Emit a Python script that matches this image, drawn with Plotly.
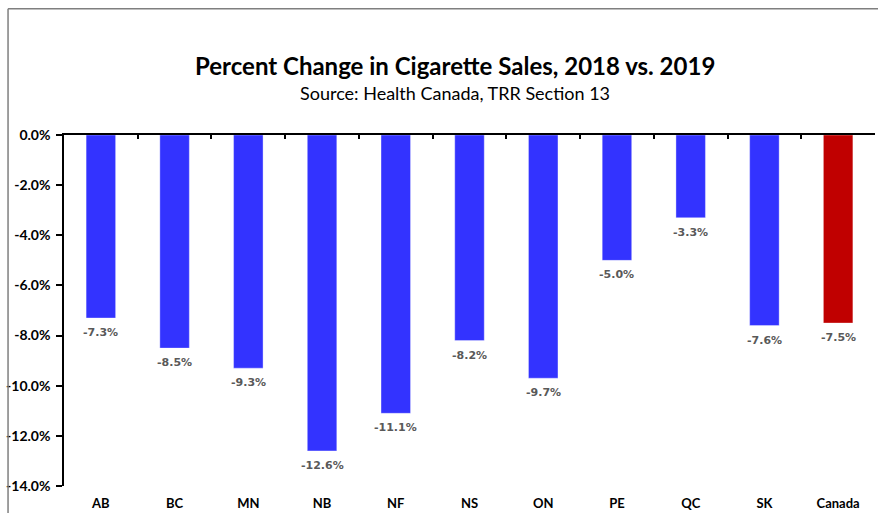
import plotly.graph_objects as go

# Provincial and national change in cigarette sales, 2018 vs. 2019 (%)
regions = ["AB", "BC", "MN", "NB", "NF", "NS", "ON", "PE", "QC", "SK", "Canada"]
pct_change = [-7.3, -8.5, -9.3, -12.6, -11.1, -8.2, -9.7, -5.0, -3.3, -7.6, -7.5]
bar_colors = ["#3333FF"] * 10 + ["#C00000"]
y_ticks = [0, -2, -4, -6, -8, -10, -12, -14]
y_tick_text = [f"{v:.1f}%" for v in y_ticks]

FONT = "Lato, 'Open Sans', sans-serif"
LABEL_FONT = "'DejaVu Sans', Verdana, sans-serif"
x_span = [-0.5, len(regions) - 0.5]

fig = go.Figure()
fig.add_trace(go.Bar(
    x=regions,
    y=pct_change,
    marker=dict(color=bar_colors, line=dict(color="rgba(255,255,255,0.35)", width=1)),
    width=0.4,
    hoverinfo="x+y",
))
# invisible companion trace that carries the bottom category labels
fig.add_trace(go.Scatter(x=regions, y=[0] * len(regions), xaxis="x2",
                         mode="markers", marker=dict(opacity=0),
                         hoverinfo="skip", showlegend=False))

# value labels just below each bar end
value_labels = [
    dict(x=r, y=v, xref="x", yref="y", text=f"{v:.1f}%", showarrow=False,
         xanchor="center", yanchor="top", yshift=-6,
         font=dict(family=LABEL_FONT, size=11, color="#595959", weight="bold"))
    for r, v in zip(regions, pct_change)
]

fig.update_layout(
    width=878, height=513,
    margin=dict(l=64, r=3, t=135, b=27),
    paper_bgcolor="white", plot_bgcolor="white",
    showlegend=False,
    font=dict(family=FONT, color="#000000"),
    xaxis=dict(
        type="category", categoryorder="array", categoryarray=regions,
        range=x_span, autorange=False,
        side="top", showline=True, linecolor="#000000", linewidth=1.5,
        ticks="inside", ticklen=4, tickcolor="#000000", tickwidth=1.5,
        tickson="boundaries", showticklabels=False, showgrid=False,
        zeroline=False, fixedrange=True,
    ),
    xaxis2=dict(
        type="category", categoryorder="array", categoryarray=regions,
        overlaying="x", matches="x", side="bottom", anchor="y",
        showline=False, ticks="", showgrid=False, ticklabelstandoff=8,
        tickfont=dict(family=FONT, size=13, color="#000000", weight="bold"),
    ),
    yaxis=dict(
        range=[-14, 0], tickvals=y_ticks, ticktext=y_tick_text,
        showline=True, linecolor="#000000", linewidth=1.5,
        ticks="outside", ticklen=6, tickcolor="#000000", tickwidth=1.5,
        ticklabelstandoff=3,
        tickfont=dict(family=FONT, size=14, color="#000000", weight="bold"),
        showgrid=False, zeroline=False, fixedrange=True,
    ),
    annotations=value_labels + [
        dict(text="<b>Percent Change in Cigarette Sales, 2018 vs. 2019</b>",
             xref="paper", yref="paper", x=0.482, y=1.199, xanchor="center", yanchor="middle",
             showarrow=False, font=dict(family=FONT, size=24, color="#000000")),
        dict(text="Source: Health Canada, TRR Section 13",
             xref="paper", yref="paper", x=0.482, y=1.12, xanchor="center", yanchor="middle",
             showarrow=False, font=dict(family=FONT, size=18, color="#000000")),
    ],
    shapes=[
        # outer chart frame (extends past the right and bottom edges)
        dict(type="line", xref="paper", yref="paper", x0=-0.069, x1=1.1, y0=1.36, y1=1.36,
             line=dict(color="#7F7F7F", width=1.5)),
        dict(type="line", xref="paper", yref="paper", x0=-0.069, x1=-0.069, y0=-0.2, y1=1.36,
             line=dict(color="#7F7F7F", width=1.5)),
    ],
)

fig.write_html("out.html")
